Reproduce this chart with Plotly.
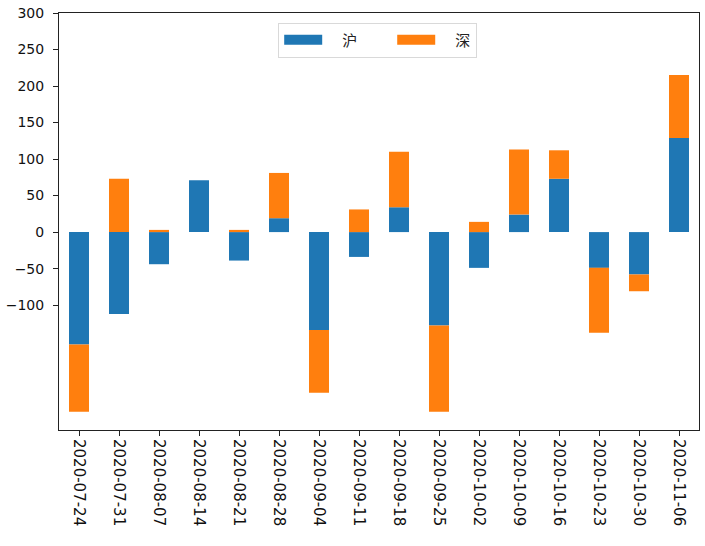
import plotly.graph_objects as go

dates = ["2020-07-24", "2020-07-31", "2020-08-07", "2020-08-14", "2020-08-21",
         "2020-08-28", "2020-09-04", "2020-09-11", "2020-09-18", "2020-09-25",
         "2020-10-02", "2020-10-09", "2020-10-16", "2020-10-23", "2020-10-30",
         "2020-11-06"]
hu = [-154, -112, -44, 71, -39, 19, -134, -34, 34, -128, -49, 24, 73, -49, -58, 129]
shen = [-92, 73, 3, 0, 3, 62, -86, 31, 76, -118, 14, 89, 39, -89, -23, 86]
series_names = ["沪", "深"]
colors = ["#1f77b4", "#ff7f0e"]
yticks = [-100, -50, 0, 50, 100, 150, 200, 250, 300]

fig = go.Figure()
for name, vals, col in zip(series_names, [hu, shen], colors):
    fig.add_trace(go.Bar(x=list(range(len(dates))), y=vals, name=name,
                         marker=dict(color=col, line=dict(width=0)),
                         width=0.5, showlegend=False))
legend_labels = ["\u2003" + series_names[0] + "\u2003\u2003", "\u2003" + series_names[1]]
for lab, col in zip(legend_labels, colors):
    fig.add_trace(go.Scatter(x=[None], y=[None], mode="lines", name=lab,
                             line=dict(color=col, width=13), showlegend=True))

fig.update_layout(
    width=705, height=546,
    barmode="relative",
    plot_bgcolor="white", paper_bgcolor="white",
    margin=dict(l=59, r=6, t=13, b=116, autoexpand=False),
    font=dict(family="DejaVu Sans, Noto Sans CJK SC", size=14, color="#111"),
    legend=dict(orientation="h", x=0.3425, xanchor="left", y=0.977, yanchor="top",
                bordercolor="#d9d9d9", borderwidth=1, bgcolor="white",
                font=dict(family="Noto Sans CJK SC", size=15, color="#222"),
                itemwidth=38, tracegroupgap=0),
    xaxis=dict(range=[-0.5, 15.5], tickmode="array",
               tickvals=list(range(len(dates))), ticktext=dates,
               tickangle=90, ticks="outside", ticklen=5, tickwidth=1,
               tickcolor="#222", showline=True, linecolor="#222", linewidth=1,
               mirror=True, showgrid=False, zeroline=False, automargin=False,
               ticklabeloverflow="allow", tickfont=dict(size=15)),
    yaxis=dict(range=[-271, 300], tickmode="array", tickvals=yticks,
               ticktext=[str(v).replace("-", "\u2212") for v in yticks],
               ticks="outside", ticklen=5, tickwidth=1, tickcolor="#222",
               showline=True, linecolor="#222", linewidth=1, mirror=True,
               showgrid=False, zeroline=False, automargin=False,
               ticklabeloverflow="allow",
               ticklabelstandoff=6, tickfont=dict(size=14)),
)

fig.write_html("out.html", config={"displayModeBar": False},
               post_script="document.body.style.margin='0';document.body.style.padding='0';")
